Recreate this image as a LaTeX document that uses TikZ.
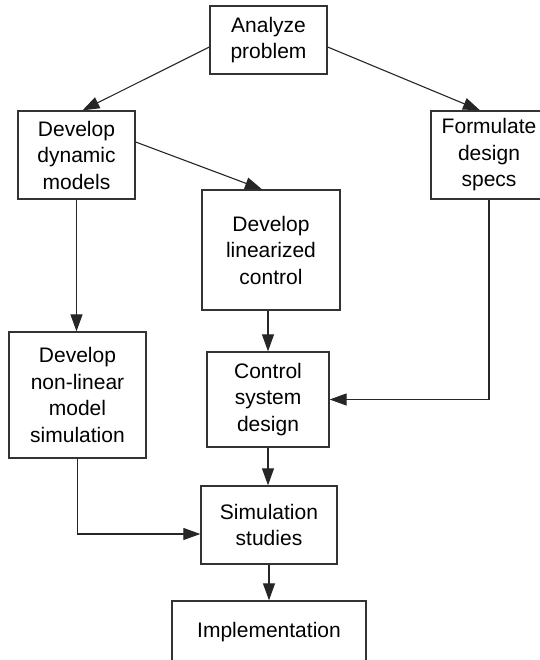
\documentclass[tikz,border=0pt]{standalone}
\usepackage{fontspec}
\setmainfont{Liberation Sans}
\usetikzlibrary{arrows.meta, positioning, calc}

\newcommand{\boxfont}{\fontsize{21}{26.5}\selectfont}

\begin{document}
\begin{tikzpicture}[x=1pt, y=-1pt,
    box/.style={draw=black!80, line width=1.3pt, align=center, font=\boxfont, inner sep=0pt},
    flow/.style={-{Triangle[length=17pt, width=12pt]}, draw=black!85, line width=1.1pt}]
    \useasboundingbox (0,0) rectangle (539,660);
    % Boxes
    \node[box, minimum width=117pt, minimum height=68pt] (analyze) at (268.5,40) {Analyze\\problem};
    \node[box, minimum width=117pt, minimum height=88pt] (dynamic) at (76.5,155) {Develop\\dynamic\\models};
    \node[box, minimum width=116pt, minimum height=88pt] (formulate) at (489,155) {Formulate\\design\\specs};
    \node[box, minimum width=138pt, minimum height=120pt] (linearized) at (271,250) {Develop\\linearized\\control};
    \node[box, minimum width=137pt, minimum height=126pt] (nonlinear) at (77.5,395) {Develop\\non-linear\\model\\simulation};
    \node[box, minimum width=122pt, minimum height=95pt] (control) at (268,399.5) {Control\\system\\design};
    \node[box, minimum width=136pt, minimum height=78pt] (simulation) at (269,525) {Simulation\\studies};
    \node[box, minimum width=194pt, minimum height=62pt] (implementation) at (269,632) {Implementation};
    % Connectors
    \draw[flow] ([yshift=-7pt]analyze.west) -- ([xshift=6pt]dynamic.north);
    \draw[flow] ([yshift=-7pt]analyze.east) -- ([xshift=-9pt]formulate.north);
    \draw[flow] ([yshift=13pt]dynamic.east) -- ([xshift=-9pt]linearized.north);
    \draw[flow] (dynamic.south) -- (dynamic.south |- nonlinear.north);
    \draw[flow] (control.north |- linearized.south) -- (control.north);
    \draw[flow] (formulate.south) |- (control.east);
    \draw[flow] (control.south) -- (control.south |- simulation.north);
    \draw[flow] (nonlinear.south) |- ([yshift=-9pt]simulation.west);
    \draw[flow] (simulation.south) -- (simulation.south |- implementation.north);
\end{tikzpicture}
\end{document}
